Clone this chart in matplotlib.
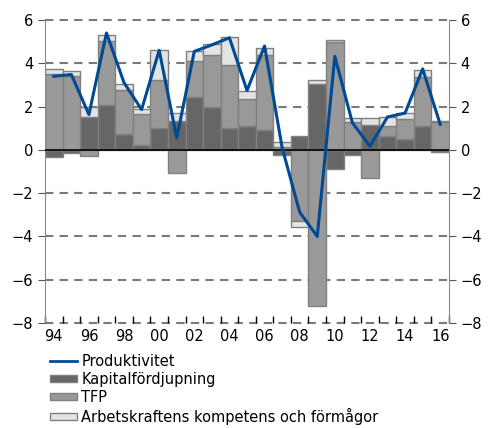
import numpy as np
import matplotlib
matplotlib.use('Agg')
import matplotlib.pyplot as plt
from matplotlib.patches import Patch
from matplotlib.lines import Line2D

# Data (procent per år)
years = list(range(1994, 2017))
kapital = [-0.35, -0.15, 1.50, 2.08, 0.74, 0.22, 1.00, 1.32, 2.43, 2.00, 1.00, 1.09,
           0.94, -0.25, 0.66, 3.02, -0.88, -0.23, 1.17, 0.66, 0.50, 1.09, -0.12]
tfp = [3.50, 3.40, -0.30, 2.97, 2.04, 1.44, 2.25, -1.08, 1.69, 2.38, 2.90, 1.26,
       3.46, 0.15, -3.30, -7.20, 4.98, 1.31, -1.30, 0.43, 0.94, 2.26, 1.30]
arbete = [0.25, 0.26, 0.48, 0.25, 0.25, 0.23, 1.35, 0.38, 0.43, 0.50, 1.30, 0.39,
          0.30, 0.20, -0.27, 0.23, 0.10, 0.15, 0.30, 0.42, 0.26, 0.33, 0.02]
produktivitet = [3.40, 3.48, 1.63, 5.40, 3.10, 1.86, 4.60, 0.55, 4.55, 4.85, 5.18, 2.74,
                 4.80, 0.10, -2.88, -4.00, 4.32, 1.25, 0.17, 1.52, 1.70, 3.74, 1.18]

labels = ['Produktivitet', 'Kapitalfördjupning', 'TFP',
          'Arbetskraftens kompetens och förmågor']
colors = ['#666666', '#999999', '#e3e3e3']
edge = '#808080'
blue = '#004a94'

plt.rcParams['font.family'] = 'DejaVu Sans'

fig = plt.figure(figsize=(4.89, 4.28), dpi=100)
ax = fig.add_axes([45 / 489, 1 - 323 / 428, 404 / 489, 303 / 428])

x = np.array(years)
pos = np.zeros(len(years))
neg = np.zeros(len(years))
for vals, c in zip([kapital, tfp, arbete], colors):
    v = np.array(vals)
    bottom = np.where(v >= 0, pos, neg)
    ax.bar(x, v, width=1.0, bottom=bottom, color=c, edgecolor=edge, linewidth=1.0, zorder=2)
    pos = pos + np.where(v >= 0, v, 0)
    neg = neg + np.where(v < 0, v, 0)

ax.plot(x, produktivitet, color=blue, linewidth=2.2, zorder=4)

# grid lines
for yv in range(-8, 7, 2):
    if yv != 0:
        ax.axhline(yv, color='#7a7a7a', linewidth=1.5, dashes=(4, 3), zorder=1, clip_on=False)
ax.axhline(0, color='black', linewidth=1.2, zorder=3)

ax.set_xlim(1993.5, 2016.5)
ax.set_ylim(-8, 6)

ax.set_xticks(years[::2])
ax.set_xticklabels(['%02d' % (y % 100) for y in years[::2]], fontsize=10.5)
ax.set_xticks(np.arange(1993.5, 2017, 1), minor=True)
ax.tick_params(axis='x', which='major', length=0, pad=4)
ax.tick_params(axis='x', which='minor', direction='in', length=5, color='black', width=1)

ax.set_yticks(range(-8, 7, 2))
ax.tick_params(axis='y', which='both', left=True, right=True, labelleft=True, labelright=True,
               direction='out', length=5, labelsize=10.5, color='#555555')

ax.spines['top'].set_visible(False)
ax.spines['bottom'].set_visible(False)
for s in ['left', 'right']:
    ax.spines[s].set_color('#888888')

handles = [Line2D([], [], color=blue, linewidth=2),
           Patch(facecolor=colors[0], edgecolor=edge),
           Patch(facecolor=colors[1], edgecolor=edge),
           Patch(facecolor=colors[2], edgecolor=edge)]
fig.legend(handles, labels, loc='upper left', bbox_to_anchor=(47 / 489, 1 - 351 / 428),
           frameon=False, fontsize=10.5, handlelength=1.85, handleheight=0.4,
           handletextpad=0.3, labelspacing=0.2, borderaxespad=0, borderpad=0.2)

fig.savefig('out.png', dpi=100)
